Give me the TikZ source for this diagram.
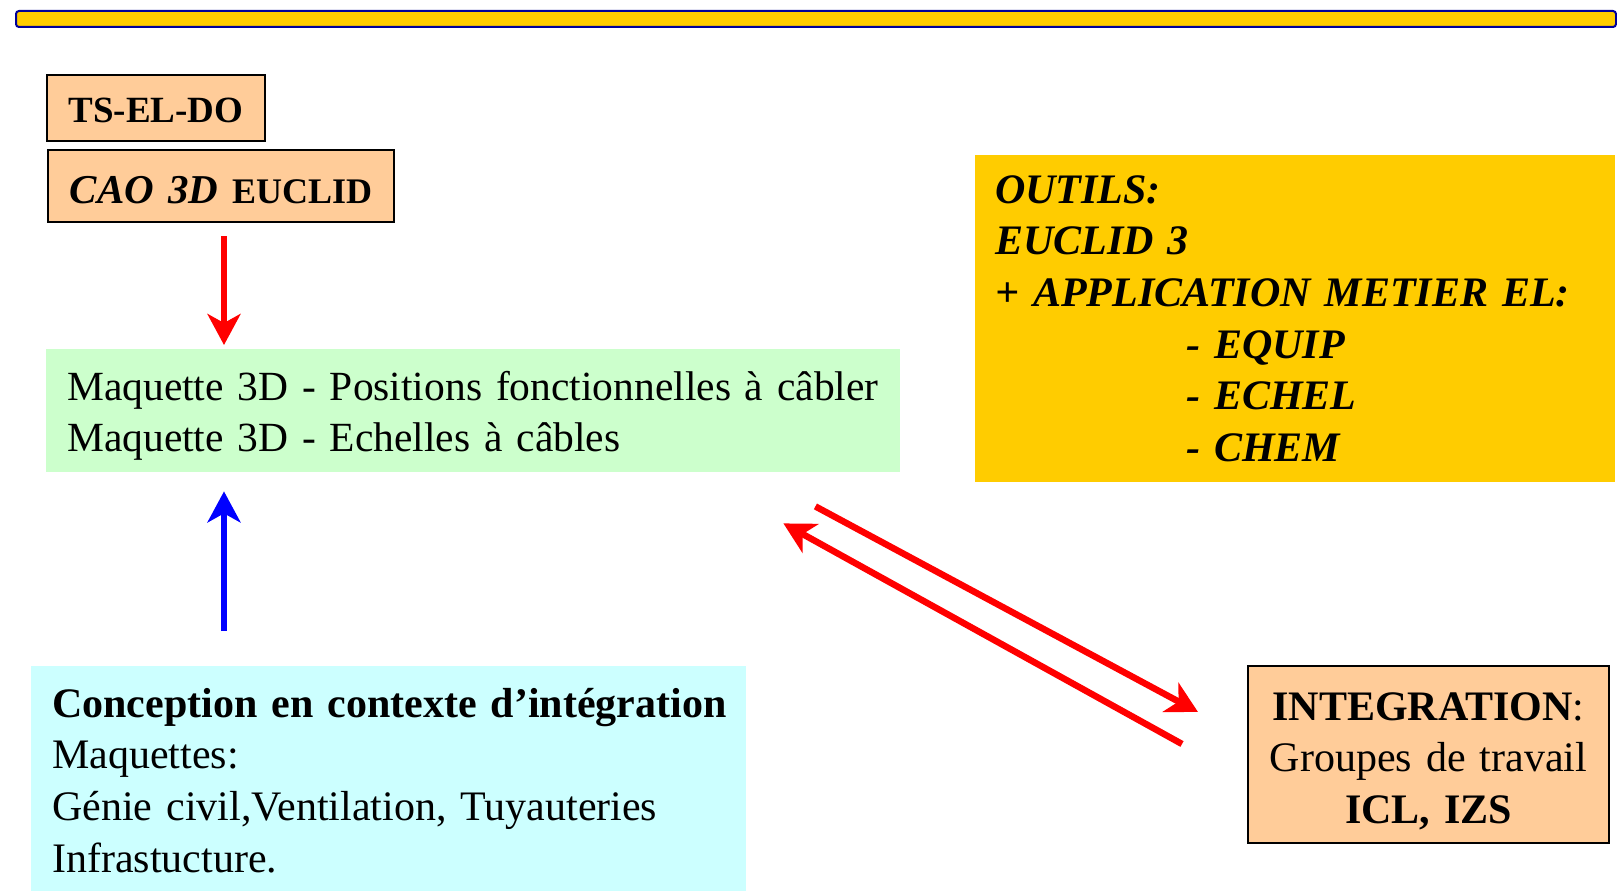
\documentclass[tikz,border=0pt]{standalone}
\usepackage{fontspec}
\setmainfont{Liberation Serif}
\usetikzlibrary{arrows.meta}
\definecolor{peach}{HTML}{FFCC99}
\definecolor{mint}{HTML}{CCFFCC}
\definecolor{sky}{HTML}{CCFFFF}
\definecolor{gold}{HTML}{FFCC00}
\definecolor{navy}{HTML}{000099}
\tikzset{
  box/.style={anchor=north west, inner ysep=0pt, align=left,
    font=\fontsize{42}{51.6}\selectfont},
  titlebox/.style={box, draw=black, line width=2pt, fill=peach, inner xsep=0pt, align=center},
  fleche/.style={line width=6.5pt, -{Stealth[length=31pt,width=33pt,inset=9pt]}}
}
\begin{document}
\begin{tikzpicture}[x=1pt,y=-1pt]
\useasboundingbox (0,0) rectangle (1617,891);
\node [box, fill=gold, draw=navy, line width=2pt, rounded corners=3pt, inner xsep=0pt,
  minimum width=1600pt, minimum height=16pt] (bar) at (15,10) {};
\node [titlebox, text width=218pt, text height=47pt, text depth=19pt] (tsel) at (46,74)
  {\fontsize{37}{44}\selectfont\bfseries TS-EL-DO};
\node [titlebox, text width=346pt, text height=53pt, text depth=19pt] (cao) at (47,149)
  {\fontsize{41}{48}\selectfont\bfseries\itshape CAO 3D \fontsize{36}{42}\selectfont\upshape EUCLID};
\node [box, fill=mint, inner xsep=21pt, text width=812pt, text height=51pt, text depth=72pt,
  font=\fontsize{41.5}{51.6}\selectfont] (maq) at (46,349)
  {\mbox{Maquette 3D - Positions fonctionnelles à câbler}\\
   \mbox{Maquette 3D - Echelles à câbles}};
\node [box, fill=sky, inner xsep=21pt, text width=673pt, text height=51pt, text depth=174pt] (conc) at (31,666)
  {\mbox{\textbf{Conception en contexte d’intégration}}\\
   Maquettes:\\
   \mbox{Génie civil,Ventilation, Tuyauteries}\\
   Infrastucture.};
\node [box, fill=gold, inner xsep=20pt, text width=600pt, text height=48pt, text depth=279pt,
  font=\fontsize{42}{51.6}\selectfont\bfseries\itshape] (outils) at (975,155)
  {OUTILS:\\
   EUCLID 3\\
   \mbox{+ APPLICATION METIER EL:}\\
   \hspace*{191pt}- EQUIP\\
   \hspace*{191pt}- ECHEL\\
   \hspace*{191pt}- CHEM};
\node [titlebox, text width=361pt, text height=54pt, text depth=123pt] (integ) at (1247,665)
  {\textbf{INTEGRATION}:\\
   Groupes de travail\\
   \textbf{ICL, IZS}};
% fleches
\draw [fleche, red, shorten <=13pt, shorten >=4pt] ([xshift=3pt]cao.south) -- ([xshift=3pt]cao.south |- maq.north);
\draw [fleche, blue, shorten <=35pt, shorten >=19pt] ([xshift=3pt]cao.south |- conc.north) -- ([xshift=3pt]cao.south |- maq.south);
\draw [fleche, red] ([xshift=-85pt,yshift=-34pt]maq.south east) -- ([xshift=-49pt,yshift=-47pt]integ.north west);
\draw [fleche, red] ([xshift=-65pt,yshift=-79pt]integ.north west) -- ([xshift=-117pt,yshift=-51pt]maq.south east);
\end{tikzpicture}
\end{document}
